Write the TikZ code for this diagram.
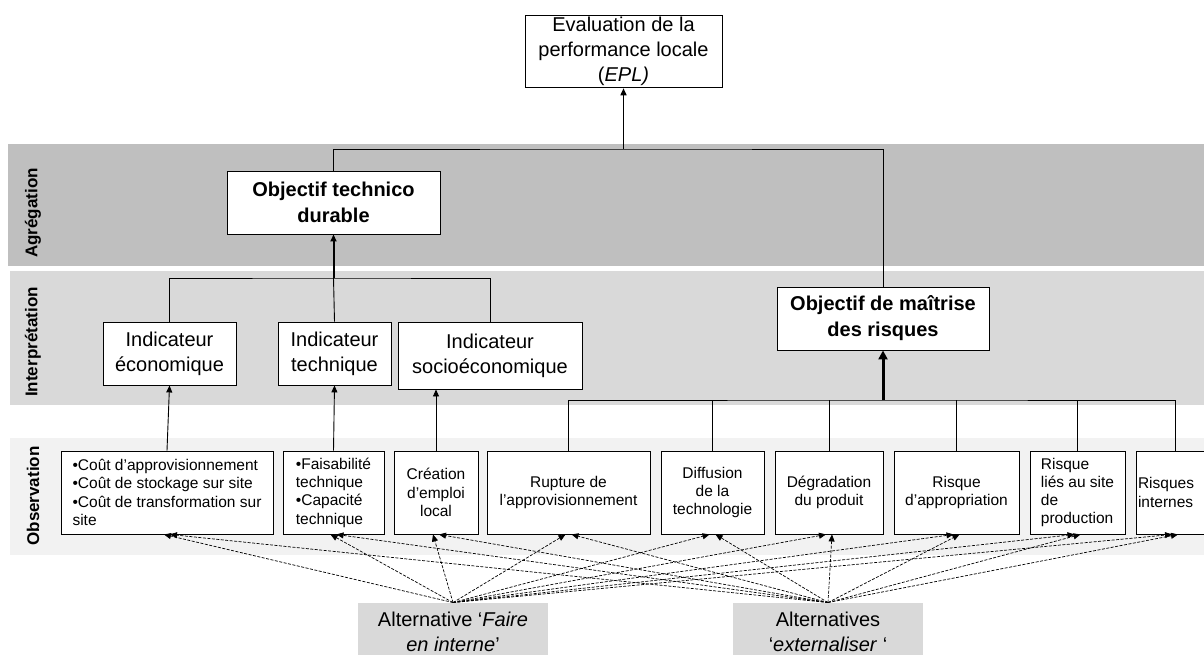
\documentclass[tikz,border=0pt]{standalone}
\usepackage{fontspec}
\setmainfont{Liberation Sans}
\usetikzlibrary{arrows.meta,positioning,calc}
\tikzset{every picture/.style={line width=0.9pt}}
\definecolor{bandagr}{HTML}{BFBFBF}
\definecolor{bandint}{HTML}{D9D9D9}
\definecolor{bandobs}{HTML}{F2F2F2}
\tikzset{
  box/.style={draw, fill=white, inner sep=2pt, align=center},
  bigtxt/.style={font=\fontsize{20}{25}\selectfont},
  boldtxt/.style={font=\fontsize{20}{26}\selectfont\bfseries},
  obstxt/.style={font=\fontsize{15.5}{18.3}\selectfont, minimum height=83pt},
  bandlabel/.style={rotate=90, font=\fontsize{17}{17}\selectfont\bfseries},
  altbox/.style={fill=bandint, minimum width=190pt, minimum height=58pt, align=center, font=\fontsize{20}{25}\selectfont},
  uparrow/.style={-{Triangle[length=7pt,width=6pt]}},
  altarrow/.style={dash pattern=on 3pt off 1.5pt, line width=0.7pt, -{Triangle[length=7pt,width=6pt]}},
}

\begin{document}
\begin{tikzpicture}[x=1pt,y=-1pt]
    \useasboundingbox (0,0) rectangle (1204,655);
    \clip (0,0) rectangle (1204,655);

    % 绘制三个层次
    \fill[bandagr] (8,144) rectangle (1204,266);
    \fill[bandint] (10,271) rectangle (1204,405);
    \fill[bandobs] (10,438) rectangle (1204,555);
    \node[bandlabel] (lagr) at (33,213) {Agrégation};
    \node[bandlabel] (lint) at (33,342) {Interprétation};
    \node[bandlabel] (lobs) at (33,496) {Observation};

    % 顶层与目标
    \node[box, bigtxt, minimum width=197pt, minimum height=71pt] (epl) at (623.5,51.5)
        {Evaluation de la\\performance locale\\(\textit{EPL)}};
    \node[box, boldtxt, minimum width=213pt, minimum height=63pt] (objtech) at (333.5,202.5)
        {Objectif technico\\durable};
    \node[box, boldtxt, minimum width=212pt, minimum height=63pt] (objrisk) at (883,318.5)
        {Objectif de maîtrise\\des risques};

    % 指标
    \node[box, bigtxt, minimum width=133pt, minimum height=63pt] (ieco) at (169.5,353.5) {Indicateur\\économique};
    \node[box, bigtxt, minimum width=113pt, minimum height=63pt] (itech) at (334.5,353.5) {Indicateur\\technique};
    \node[box, bigtxt, minimum width=184pt, minimum height=67pt] (isoc) at (490,355.5) {Indicateur\\socioéconomique};

    % 观测
    \node[box, obstxt, align=left, minimum width=212pt] (cout) at (167,492.5)
        {•Coût d’approvisionnement\\•Coût de stockage sur site\\•Coût de transformation sur\\site};
    \node[box, obstxt, align=left, minimum width=101pt] (faisa) at (333.5,492.5)
        {•Faisabilité\\technique\\•Capacité\\technique};
    \node[box, obstxt, minimum width=84pt] (creation) at (436,492.5) {Création\\d’emploi\\local};
    \node[box, obstxt, minimum width=163pt] (rupture) at (568.5,492.5) {Rupture de\\l’approvisionnement};
    \node[box, obstxt, minimum width=103pt] (diffusion) at (712.5,492.5) {Diffusion\\de la\\technologie};
    \node[box, obstxt, minimum width=108pt] (degradation) at (829,492.5) {Dégradation\\du produit};
    \node[box, obstxt, minimum width=125pt] (appropriation) at (956.5,492.5) {Risque\\d’appropriation};
    \node[box, obstxt, align=left, minimum width=95pt] (lies) at (1077.5,492.5)
        {Risque\\liés au site\\de\\production};
    \node[box, obstxt, align=left, text width=74pt] (internes) at (1175,492.5) {Risques\\internes};

    % 备选方案
    \node[altbox] (faire) at (453,632) {Alternative ‘\textit{Faire}\\\textit{en interne}’};
    \node[altbox] (ext) at (828,632) {Alternatives\\‘\textit{externaliser} ‘};

    % 连接
    \coordinate (jtop) at (623.5,149);
    \coordinate (jtech) at (333.5,278);
    \coordinate (jrisk) at (883,400);
    \draw (objtech.north) |- (jtop) -| (objrisk.north);
    \draw[uparrow, line width=1.5pt] (jtop) -- (epl.south);
    \draw (ieco.north) |- (jtech) -| (isoc.north);
    \draw (itech.north) -- (jtech);
    \draw[uparrow, line width=2pt] (jtech) -- (objtech.south);
    \draw (rupture.north) |- (jrisk) -| (internes.north);
    \foreach \n in {diffusion,degradation,appropriation,lies}
        \draw (\n.north) -- (\n.north |- jrisk);
    \draw[line width=3pt, -{Triangle[length=9pt,width=9pt]}] (jrisk) -- (objrisk.south);
    \draw[uparrow] (cout.north) -- (ieco.south);
    \draw[uparrow] (faisa.north) -- (itech.south);
    \draw[uparrow] (creation.north) -- (creation.north |- isoc.south);

    % 虚线箭头
    \foreach \t in {cout,faisa,creation,rupture,diffusion,degradation,appropriation,lies,internes}{
        \draw[altarrow] (faire.north) -- ([xshift=-3pt]\t.south);
        \draw[altarrow] (ext.north) -- ([xshift=3pt]\t.south);
    }
\end{tikzpicture}
\end{document}
